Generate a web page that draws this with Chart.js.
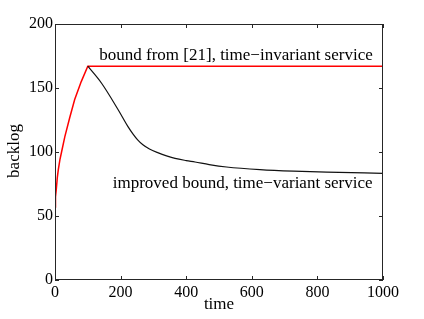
<!DOCTYPE html>
<html>
<head>
<meta charset="utf-8">
<script src="https://cdn.jsdelivr.net/npm/chart.js@4/dist/chart.umd.min.js"></script>
<style>
html,body{margin:0;padding:0;background:#fff;}
#wrap{width:424px;height:319px;position:relative;}
</style>
</head>
<body>
<div id="wrap"><canvas id="c" width="424" height="319"></canvas></div>
<script>
// ---- data ----
const redTimes   = [0, 1, 2, 4, 7, 10, 15, 20, 30, 45, 60, 80, 100, 1000];
const redValues  = [57, 61, 65, 71, 80, 86, 94, 100, 112, 127, 141, 155, 167, 167];
const blackTimes  = [100, 142, 193, 222, 238, 252, 268, 288, 315, 340, 366, 400, 427, 470, 523, 625, 727, 828, 1000];
const blackValues = [167, 153.7, 132.8, 120, 114, 109.5, 105.6, 102.3, 99.3, 97, 95, 93.3, 92.2, 90.2, 88.3, 86.2, 85, 84.3, 83.3];
const xTicks = [0, 200, 400, 600, 800, 1000];
const yTicks = [0, 50, 100, 150, 200];
const labelTop = "bound from [21], time\u2212invariant service";
const labelBottom = "improved bound, time\u2212variant service";
const xTitle = "time";
const yTitle = "backlog";

const FONT = '"Liberation Serif", "Times New Roman", serif';

function pts(xs, ys){ return xs.map((x,i)=>({x:x, y:ys[i]})); }

const boxPlugin = {
  id: 'box',
  afterDatasetsDraw(chart){
    const {ctx, chartArea:a, scales} = chart;
    const xs = scales.x, ys = scales.y;
    ctx.save();
    ctx.fillStyle = '#000';
    ctx.font = '17px ' + FONT;
    ctx.textAlign = 'left';
    ctx.textBaseline = 'middle';
    ctx.fillText(labelTop, xs.getPixelForValue(135), ys.getPixelForValue(175.5));
    ctx.fillText(labelBottom, xs.getPixelForValue(176), ys.getPixelForValue(75));
    ctx.strokeStyle = '#262626';
    ctx.lineWidth = 1;
    ctx.strokeRect(a.left+0.5, a.top+0.5, a.right-a.left-1, a.bottom-a.top-1);
    const L = 4;
    ctx.beginPath();
    xTicks.forEach(v=>{
      const px = Math.round(xs.getPixelForValue(v))+0.5;
      ctx.moveTo(px, a.bottom); ctx.lineTo(px, a.bottom-L);
      ctx.moveTo(px, a.top); ctx.lineTo(px, a.top+L);
    });
    yTicks.forEach(v=>{
      const py = Math.round(ys.getPixelForValue(v))+0.5;
      ctx.moveTo(a.left, py); ctx.lineTo(a.left+L, py);
      ctx.moveTo(a.right, py); ctx.lineTo(a.right-L, py);
    });
    ctx.stroke();
    ctx.textAlign = 'center';
    ctx.textBaseline = 'middle';
    ctx.fillText(xTitle, (a.left+a.right)/2, 305);
    ctx.translate(15, 151);
    ctx.rotate(-Math.PI/2);
    ctx.fillText(yTitle, 0, 0);
    ctx.restore();
  }
};

function draw(){
  new Chart(document.getElementById('c'), {
    type: 'scatter',
    data: {
      datasets: [
        {data: pts(blackTimes, blackValues), showLine: true, borderColor: '#111', borderWidth: 1.2, pointRadius: 0, fill: false, cubicInterpolationMode: 'monotone'},
        {data: pts(redTimes, redValues), showLine: true, borderColor: '#ff0000', borderWidth: 1.5, pointRadius: 0, fill: false, tension: 0}
      ]
    },
    options: {
      responsive: false,
      animation: false,
      events: [],
      layout: {padding: {left: 0, right: 41, top: 24, bottom: 0}},
      plugins: {legend: {display: false}, tooltip: {enabled: false}},
      scales: {
        x: {
          type: 'linear', min: 0, max: 1000,
          afterBuildTicks: s => { s.ticks = xTicks.map(v=>({value:v})); },
          afterFit: s => { s.height = 39; },
          grid: {display: false, drawTicks: false},
          border: {display: false},
          ticks: {color: '#000', font: {family: FONT, size: 16}, padding: 3, maxRotation: 0, callback: v => String(v)}
        },
        y: {
          type: 'linear', min: 0, max: 200,
          afterBuildTicks: s => { s.ticks = yTicks.map(v=>({value:v})); },
          afterFit: s => { s.width = 55; },
          grid: {display: false, drawTicks: false},
          border: {display: false},
          ticks: {color: '#000', font: {family: FONT, size: 16}, padding: 2, callback: v => String(v)}
        }
      }
    },
    plugins: [boxPlugin]
  });
}

document.fonts.load('16px "Liberation Serif"').then(draw, draw);
</script>
</body>
</html>
